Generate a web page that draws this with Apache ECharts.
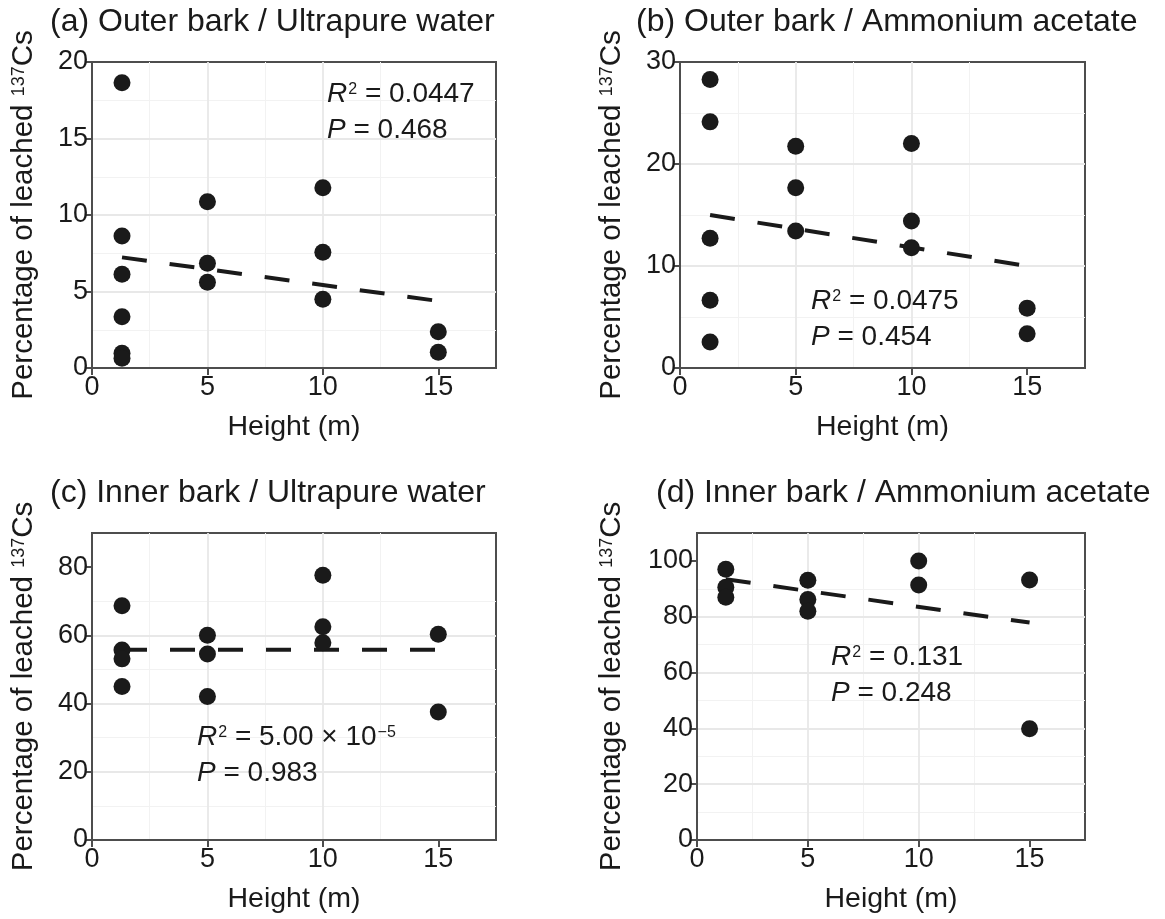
<!DOCTYPE html>
<html>
<head>
<meta charset="utf-8">
<script src="https://cdn.jsdelivr.net/npm/echarts@6/dist/echarts.min.js"></script>
<style>
  html, body { margin: 0; padding: 0; background: #fff; }
  #main { width: 1165px; height: 919px; }
</style>
</head>
<body>
<div id="main"></div>
<script>
// (a) Outer bark / Ultrapure water
const heightA = [1.3, 1.3, 1.3, 1.3, 1.3, 1.3, 5, 5, 5, 10, 10, 10, 15, 15];
const valueA = [18.65, 8.63, 6.12, 3.35, 0.96, 0.63, 10.87, 6.84, 5.6, 11.78, 7.56, 4.49, 2.37, 1.03];
const fitA = [[1.3, 7.23], [15, 4.38]];

// (b) Outer bark / Ammonium acetate
const heightB = [1.3, 1.3, 1.3, 1.3, 1.3, 5, 5, 5, 10, 10, 10, 15, 15];
const valueB = [28.28, 24.13, 12.72, 6.65, 2.54, 21.75, 17.67, 13.43, 22.0, 14.41, 11.8, 5.87, 3.36];
const fitB = [[1.3, 15.0], [15, 10.0]];

// (c) Inner bark / Ultrapure water
const heightC = [1.3, 1.3, 1.3, 1.3, 5, 5, 5, 10, 10, 10, 15, 15];
const valueC = [68.7, 55.7, 53.1, 45.0, 60.0, 54.5, 42.1, 77.6, 62.5, 57.8, 60.3, 37.5];
const fitC = [[1.3, 55.8], [15, 55.8]];

// (d) Inner bark / Ammonium acetate
const heightD = [1.3, 1.3, 1.3, 5, 5, 5, 10, 10, 15, 15];
const valueD = [97.0, 90.6, 87.0, 93.1, 86.2, 82.0, 100.0, 91.4, 93.2, 39.9];
const fitD = [[1.3, 93.4], [15, 77.9]];

const panelTitles = [
  '(a) Outer bark / Ultrapure water',
  '(b) Outer bark / Ammonium acetate',
  '(c) Inner bark / Ultrapure water',
  '(d) Inner bark / Ammonium acetate'
];
const r2Text = ['0.0447', '0.0475', '5.00 × 10', '0.131'];
const r2Sup = ['', '', '−5', ''];
const pText = ['0.468', '0.454', '0.983', '0.248'];

// major ticks (labelled) and minor grid lines
const xTicks = [0, 5, 10, 15];
const xMinor = [2.5, 7.5, 12.5];
const yMax = [20, 30, 90, 110];
const yStep = [5, 10, 20, 20];
const yTicks = [
  [0, 5, 10, 15, 20],
  [0, 10, 20, 30],
  [0, 20, 40, 60, 80],
  [0, 20, 40, 60, 80, 100]
];
const yMinor = [
  [2.5, 7.5, 12.5, 17.5],
  [5, 15, 25],
  [10, 30, 50, 70],
  [10, 30, 50, 70, 90]
];

const heights = [heightA, heightB, heightC, heightD];
const values = [valueA, valueB, valueC, valueD];
const fits = [fitA, fitB, fitC, fitD];

const FONT = '"Liberation Sans", Arial, sans-serif';
const INK = '#1a1a1a';
const FRAME = '#4d4d4d';

const grids = [
  { left: 92, top: 62, width: 404, height: 306 },
  { left: 680, top: 62, width: 405, height: 306 },
  { left: 92, top: 533, width: 404, height: 307 },
  { left: 697, top: 533, width: 388, height: 307 }
];
const titlePos = [[50, 6], [636, 6], [50, 477], [656, 477]];
const statPos = [[327, 76], [811, 283], [197, 719], [831, 639]];
const yNameGap = [53, 53, 53, 70];

const chart = echarts.init(document.getElementById('main'));

const tickStyle = { show: true, inside: false, length: 7, lineStyle: { color: FRAME, width: 2 } };
const majorSplit = { show: true, showMaxLine: false, lineStyle: { color: '#e8e8e8', width: 1.8 } };
const minorSplit = { show: true, lineStyle: { color: '#f2f2f2', width: 1 } };
const hidden = { show: false };

const xAxis = [];
const yAxis = [];
grids.forEach((g, i) => {
  xAxis.push({
    type: 'value',
    gridIndex: i,
    min: 0,
    max: 17.5,
    interval: 5,
    name: 'Height (m)',
    nameLocation: 'middle',
    nameGap: 45,
    nameTextStyle: { fontSize: 28.5, color: INK, fontFamily: FONT },
    axisLine: { show: true, lineStyle: { color: FRAME, width: 2 } },
    axisTick: Object.assign({ customValues: xTicks }, tickStyle),
    axisLabel: { customValues: xTicks, fontSize: 27, color: INK, fontFamily: FONT, margin: 6 },
    splitLine: majorSplit,
    z: 1
  });
  yAxis.push({
    type: 'value',
    gridIndex: i,
    min: 0,
    max: yMax[i],
    interval: yStep[i],
    name: '{t|Percentage of leached }{s|137}{t|Cs}',
    nameLocation: 'middle',
    nameGap: yNameGap[i],
    nameTextStyle: {
      fontSize: 29.5, color: INK, fontFamily: FONT,
      rich: {
        t: { fontSize: 29.5, color: INK, fontFamily: FONT },
        s: { fontSize: 18, color: INK, fontFamily: FONT, verticalAlign: 'top', padding: [1, 0, 0, 0] }
      }
    },
    axisLine: { show: true, lineStyle: { color: FRAME, width: 2 } },
    axisTick: Object.assign({ customValues: yTicks[i] }, tickStyle),
    axisLabel: { customValues: yTicks[i], fontSize: 27, color: INK, fontFamily: FONT, margin: 4 },
    splitLine: majorSplit,
    z: 1
  });
});
// 次网格线: separate silent axes so they sit under the major lines
grids.forEach((g, i) => {
  xAxis.push({
    type: 'value', gridIndex: i, position: 'top', min: 0, max: 17.5,
    axisLine: hidden, axisLabel: hidden,
    axisTick: { show: false, customValues: xMinor },
    splitLine: minorSplit,
    z: 0
  });
  yAxis.push({
    type: 'value', gridIndex: i, position: 'right', min: 0, max: yMax[i],
    axisLine: hidden, axisLabel: hidden,
    axisTick: { show: false, customValues: yMinor[i] },
    splitLine: minorSplit,
    z: 0
  });
});

const series = [];
grids.forEach((g, i) => {
  // 回归虚线
  series.push({
    type: 'line',
    xAxisIndex: i,
    yAxisIndex: i,
    data: fits[i],
    symbol: 'none',
    silent: true,
    z: 3,
    lineStyle: { color: INK, width: 4, type: [25, 23] }
  });
  series.push({
    type: 'scatter',
    xAxisIndex: i,
    yAxisIndex: i,
    data: heights[i].map((h, k) => [h, values[i][k]]),
    symbol: 'circle',
    symbolSize: 17,
    z: 4,
    itemStyle: { color: INK, opacity: 1 }
  });
});

const statRich = {
  i: { fontStyle: 'italic', fontSize: 28, lineHeight: 36, color: INK, fontFamily: FONT },
  n: { fontSize: 28, lineHeight: 36, color: INK, fontFamily: FONT },
  s: { fontSize: 16, lineHeight: 16, color: INK, fontFamily: FONT, verticalAlign: 'top', padding: [6, 0, 0, 1] }
};

const titles = [];
panelTitles.forEach((t, i) => {
  titles.push({
    text: t,
    left: titlePos[i][0],
    top: titlePos[i][1],
    padding: 0,
    textStyle: { fontSize: 32, fontWeight: 'normal', color: INK, fontFamily: FONT, lineHeight: 32 }
  });
  const sup = r2Sup[i] ? '{s|' + r2Sup[i] + '}' : '';
  titles.push({
    text: '{i|R}{s|2}{n| = ' + r2Text[i] + '}' + sup + '\n{i|P}{n| = ' + pText[i] + '}',
    left: statPos[i][0],
    top: statPos[i][1],
    padding: 0,
    textStyle: { fontSize: 28, fontWeight: 'normal', color: INK, fontFamily: FONT, lineHeight: 36, rich: statRich }
  });
});

chart.setOption({
  animation: false,
  backgroundColor: '#ffffff',
  title: titles,
  grid: grids.map(g => Object.assign({
    show: true,
    borderColor: FRAME,
    borderWidth: 2,
    backgroundColor: 'transparent',
    containLabel: false,
    outerBoundsMode: 'none'
  }, g)),
  xAxis: xAxis,
  yAxis: yAxis,
  series: series
});
</script>
</body>
</html>
